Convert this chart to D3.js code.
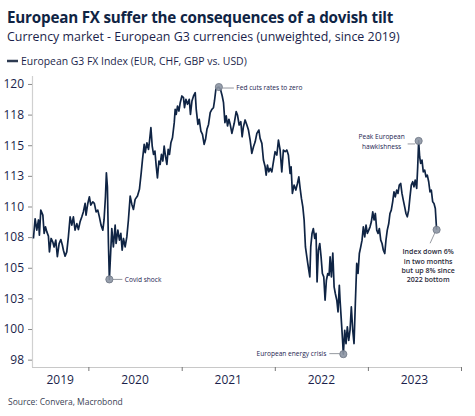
<!DOCTYPE html>
<html><head><meta charset="utf-8">
<script src="https://cdnjs.cloudflare.com/ajax/libs/d3/7.8.5/d3.min.js"></script>
<style>
html,body{margin:0;padding:0;background:#fff;}
svg{display:block;font-family:"Open Sans","Noto Sans",sans-serif;}
</style></head>
<body>
<svg id="chart" width="475" height="416"></svg>
<script>
// ---- DATA (decimal year, index value) ----
const dates = [
2019.410,2019.428,2019.446,2019.464,2019.474,2019.489,2019.511,2019.525,2019.539,2019.554,
2019.571,2019.582,2019.600,2019.618,2019.632,2019.650,2019.667,2019.686,2019.704,2019.721,
2019.732,2019.750,2019.768,2019.785,2019.804,2019.822,2019.839,2019.857,2019.876,2019.893,
2019.911,2019.929,2019.946,2019.965,2019.975,2019.994,2020.011,2020.026,2020.047,2020.064,
2020.083,2020.101,2020.118,2020.136,2020.155,2020.168,2020.183,2020.193,2020.204,2020.215,
2020.225,2020.240,2020.251,2020.268,2020.287,2020.297,2020.316,2020.333,2020.348,2020.362,
2020.376,2020.394,2020.412,2020.429,2020.448,2020.466,2020.483,2020.501,2020.526,2020.547,
2020.566,2020.580,2020.598,2020.609,2020.627,2020.644,2020.655,2020.670,2020.684,2020.698,
2020.713,2020.727,2020.740,2020.756,2020.769,2020.783,2020.798,2020.812,2020.826,2020.841,
2020.855,2020.869,2020.884,2020.901,2020.920,2020.930,2020.941,2020.955,2020.970,2020.984,
2021.002,2021.019,2021.030,2021.045,2021.062,2021.081,2021.094,2021.110,2021.127,2021.145,
2021.156,2021.174,2021.188,2021.206,2021.223,2021.241,2021.256,2021.271,2021.288,2021.306,
2021.324,2021.341,2021.352,2021.367,2021.384,2021.399,2021.416,2021.435,2021.449,2021.464,
2021.478,2021.492,2021.507,2021.521,2021.539,2021.564,2021.585,2021.599,2021.617,2021.635,
2021.649,2021.663,2021.681,2021.700,2021.717,2021.735,2021.753,2021.771,2021.789,2021.807,
2021.829,2021.842,2021.861,2021.878,2021.896,2021.907,2021.921,2021.936,2021.950,2021.968,
2021.985,2022.003,2022.022,2022.039,2022.057,2022.075,2022.092,2022.111,2022.129,2022.146,
2022.164,2022.175,2022.189,2022.207,2022.226,2022.243,2022.258,2022.272,2022.286,2022.301,
2022.315,2022.329,2022.344,2022.354,2022.365,2022.376,2022.386,2022.400,2022.414,2022.429,
2022.443,2022.454,2022.468,2022.483,2022.497,2022.511,2022.526,2022.540,2022.554,2022.569,
2022.583,2022.594,2022.608,2022.623,2022.637,2022.650,2022.666,2022.679,2022.693,2022.701,
2022.719,2022.730,2022.736,2022.751,2022.765,2022.779,2022.794,2022.808,2022.822,2022.837,
2022.851,2022.865,2022.880,2022.894,2022.908,2022.923,2022.937,2022.951,2022.966,2022.980,
2022.994,2023.009,2023.023,2023.037,2023.052,2023.066,2023.080,2023.095,2023.109,2023.123,
2023.138,2023.152,2023.166,2023.181,2023.194,2023.208,2023.224,2023.237,2023.251,2023.266,
2023.280,2023.294,2023.309,2023.323,2023.337,2023.352,2023.366,2023.380,2023.395,2023.409,
2023.423,2023.438,2023.452,2023.466,2023.481,2023.495,2023.508,2023.524,2023.535,2023.545,
2023.556,2023.567,2023.581,2023.595,2023.610,2023.624,2023.638,2023.653,2023.667,2023.681,
2023.696,2023.710,2023.724,2023.738
];
const values = [
107.39,109.00,108.07,108.90,107.66,109.70,109.30,107.80,108.34,107.93,
107.58,106.30,107.39,107.10,106.70,107.25,105.90,106.98,107.30,106.84,
106.43,105.94,106.30,107.50,109.15,108.48,109.15,108.07,108.60,108.12,
108.75,109.15,109.56,110.25,109.30,110.25,110.79,110.11,110.38,110.25,
109.56,109.70,109.15,108.48,108.07,108.90,110.79,112.75,111.60,106.98,
104.05,106.43,108.20,106.70,108.48,106.98,108.07,107.25,107.80,106.43,
107.39,106.70,107.52,108.90,110.85,110.17,109.76,110.58,110.85,111.40,
112.75,113.85,115.07,114.39,115.20,114.66,115.34,116.43,114.93,114.25,
114.52,113.30,112.34,113.71,113.44,114.25,113.71,114.93,114.12,113.44,
114.66,114.25,115.20,115.61,116.84,117.93,117.52,118.20,117.79,118.47,
119.02,118.88,118.06,118.75,118.34,118.75,117.52,118.61,119.02,119.29,
117.93,116.70,117.12,116.16,115.89,115.07,115.48,116.30,116.70,117.66,
117.93,118.06,118.61,119.57,119.70,119.75,119.57,119.02,118.47,116.84,
117.39,116.57,117.12,116.70,115.97,116.79,117.74,117.47,116.65,116.92,
115.69,116.51,117.06,116.65,116.24,115.42,114.34,114.88,115.28,115.97,
116.24,115.56,115.15,113.79,113.24,112.56,113.38,112.83,113.11,112.83,
113.65,114.47,114.20,115.42,114.61,112.83,114.61,114.47,114.61,114.20,
112.70,113.24,111.07,111.75,111.34,111.88,112.42,111.48,110.66,109.97,
108.89,106.70,105.89,105.35,104.80,104.25,106.70,107.80,108.20,107.39,
107.80,103.84,106.43,106.98,105.89,104.53,104.25,102.35,103.98,104.53,
104.39,105.89,104.25,106.20,103.44,102.90,102.35,101.40,103.57,102.35,
100.17,98.81,97.95,99.90,98.81,100.17,99.08,99.90,101.80,99.90,
98.81,102.08,105.35,104.53,106.16,106.70,107.25,108.34,107.52,108.48,
107.80,108.07,108.34,108.75,109.56,108.90,109.43,108.07,107.80,108.20,
107.25,106.98,106.43,106.16,107.25,108.07,108.61,109.43,109.70,110.38,
111.20,110.79,111.34,111.07,111.75,111.88,111.07,110.52,109.97,109.43,
109.16,109.70,110.79,111.75,112.02,111.61,112.15,111.48,113.24,115.35,
114.06,113.52,113.79,112.83,112.97,112.42,112.56,112.02,111.20,111.34,
110.38,110.25,109.84,108.10
];
const yTicks = [97.5,100,102.5,105,107.5,110,112.5,115,117.5,120];
const yearLabels = [2019,2020,2021,2022,2023];
const yearBounds = [2020,2021,2022,2023,2024];
const seriesName = "European G3 FX Index (EUR, CHF, GBP vs. USD)";
const title = "European FX suffer the consequences of a dovish tilt";
const subtitle = "Currency market - European G3 currencies (unweighted, since 2019)";
const source = "Source: Convera, Macrobond";
// annotations: [decimal year of the marked point, text lines]
const annCovid = {date:2020.225, text:["Covid shock"]};
const annFed = {date:2021.399, text:["Fed cuts rates to zero"]};
const annEnergy = {date:2022.736, text:["European energy crisis"]};
const annPeak = {date:2023.545, text:["Peak European","hawkishness"]};
const annLast = {date:2023.738, text:["Index down 6%","in two months","but up 8% since","2022 bottom"]};

// ---- helpers ----
function decToDate(d){
  const y = Math.floor(d);
  const s = new Date(y,0,1), e = new Date(y+1,0,1);
  return new Date(s.getTime() + (d-y)*(e-s));
}
const data = dates.map((d,i)=>({date:decToDate(d), dec:d, value:values[i]}));

const svg = d3.select("#chart");
const navy = "#0f2444";
const textNavy = "#1b1f4b";

function fit(sel, w){
  const n = sel.node();
  const cur = parseFloat(sel.attr("font-size"));
  const got = n.getComputedTextLength();
  sel.attr("font-size", (cur*w/got).toFixed(2));
}

// Titles
svg.append("text").attr("x",7).attr("y",22.5).attr("font-size",15).attr("font-weight",700)
  .attr("fill","#0f2444").attr("letter-spacing","-0.2").text(title).call(fit,386);
svg.append("text").attr("x",7).attr("y",40.5).attr("font-size",13)
  .attr("fill",textNavy).text(subtitle).call(fit,393);

// Legend
svg.append("line").attr("x1",7).attr("x2",18).attr("y1",61).attr("y2",61)
  .attr("stroke","#2e3b52").attr("stroke-width",2.5);
svg.append("text").attr("x",21).attr("y",64.8).attr("font-size",11)
  .attr("fill",textNavy).text(seriesName).call(fit,226);

// Scales
const x = d3.scaleTime().domain([new Date(2019,4,25), new Date(2024,0,1)]).range([32,461]);
const y = d3.scaleLinear().domain([96.9, 120.65]).range([367,76]);

// Axes
const gy = svg.append("g").attr("transform","translate(32,0)")
  .call(d3.axisLeft(y).tickValues(yTicks).tickSize(4).tickPadding(4).tickFormat(d=>d3.format(".0f")(Math.round(d))));
gy.select(".domain").attr("stroke","#d0d0d0").attr("stroke-width",1.2).attr("d","M0.5,76V367");
gy.selectAll(".tick line").attr("stroke","#8a8a8a");
gy.selectAll(".tick text").attr("fill",textNavy).attr("font-size",12).attr("font-family","'Open Sans',sans-serif");

const gx = svg.append("g").attr("transform","translate(0,367)")
  .call(d3.axisBottom(x).tickValues(yearBounds.map(yv=>new Date(yv,0,1))).tickSize(4).tickFormat(""));
gx.select(".domain").attr("stroke","#c8c8c8").attr("stroke-width",1.2).attr("d","M32,0.5H461");
gx.selectAll(".tick line").attr("stroke","#777");

// Year labels centred in visible portion of each year
yearLabels.forEach(yr=>{
  const a = Math.max(x(new Date(yr,0,1)), x.range()[0]);
  const b = Math.min(x(new Date(yr+1,0,1)), x.range()[1]);
  svg.append("text").attr("x",(a+b)/2).attr("y",383.5).attr("text-anchor","middle")
    .attr("font-size",12).attr("fill",textNavy).text(yr);
});

// Line
const line = d3.line().x(d=>x(d.date)).y(d=>y(d.value));
svg.append("path").datum(data).attr("d",line).attr("fill","none")
  .attr("stroke",navy).attr("stroke-width",1.7).attr("stroke-linejoin","round");

// Annotations
const annColor = "#1b2350";
function pt(a){ const d = data.find(p=>Math.abs(p.dec-a.date)<1e-6); return [x(d.date), y(d.value)]; }
function marker(p){
  svg.append("circle").attr("cx",p[0]).attr("cy",p[1]).attr("r",3.6)
    .attr("fill","#8c95a3").attr("stroke","#6e7684").attr("stroke-width",0.8).attr("fill-opacity",0.9);
}
function leader(x1,y1,x2,y2){
  svg.append("line").attr("x1",x1).attr("y1",y1).attr("x2",x2).attr("y2",y2)
    .attr("stroke","#7b7f88").attr("stroke-width",0.8);
}
function label(xp,yp,lines,anchor,opts={}){
  const t = svg.append("text").attr("x",xp).attr("y",yp).attr("text-anchor",anchor)
    .attr("font-size",opts.size||6.6).attr("fill",opts.color||annColor)
    .attr("font-weight",opts.weight||400);
  lines.forEach((l,i)=>t.append("tspan").attr("x",xp).attr("dy",i===0?0:(opts.lh||9.3)).text(l));
  return t;
}

let p = pt(annCovid);
leader(p[0]+3.6,p[1],p[0]+13,p[1]); marker(p);
label(p[0]+15.5,p[1]+2.3,annCovid.text,"start");

p = pt(annFed);
leader(p[0]+3.6,p[1]+1,p[0]+15,p[1]+1); marker(p);
label(p[0]+17.5,p[1]+3.3,annFed.text,"start");

p = pt(annEnergy);
leader(p[0]-3.6,p[1]-0.5,p[0]-14,p[1]-0.5); marker(p);
label(p[0]-17,p[1]+1.8,annEnergy.text,"end");

p = pt(annPeak);
leader(p[0]-3.6,p[1]+3,p[0]-11,p[1]+3); marker(p);
label(p[0]-37,p[1]-1.6,annPeak.text,"middle");

p = pt(annLast);
leader(p[0]-1.8,p[1]+3.2,p[0]-6.5,p[1]+13.5); marker(p);
label(p[0]-8.5,p[1]+24.5,annLast.text,"middle",{size:7,weight:600,color:"#2a2a3a",lh:9.3});

// Source
svg.append("text").attr("x",8).attr("y",404.5).attr("font-size",10.5)
  .attr("fill","#3a3f55").text(source).call(fit,115);
</script>
</body></html>
